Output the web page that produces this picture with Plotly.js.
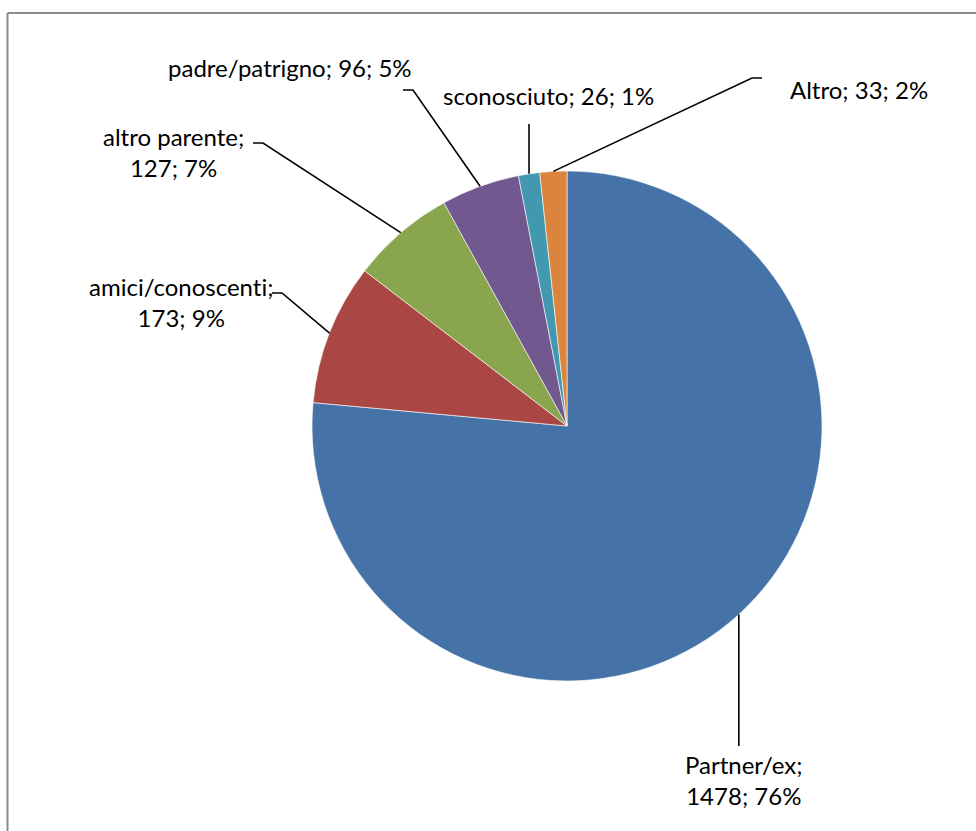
<!DOCTYPE html>
<html>
<head>
<meta charset="utf-8">
<script src="https://cdn.plot.ly/plotly-3.0.1.min.js"></script>
<style>html,body{margin:0;padding:0;background:#fff;}#chart{width:976px;height:831px;}
text{font-variant-ligatures:none;font-feature-settings:"liga" 0;}</style>
</head>
<body>
<div id="chart"></div>
<script>
// Data
const categories = ["Partner/ex", "amici/conoscenti", "altro parente", "padre/patrigno", "sconosciuto", "Altro"];
const counts = [1478, 173, 127, 96, 26, 33];
const percentLabels = ["76%", "9%", "7%", "5%", "1%", "2%"];
const colors = ["#4572A7", "#AA4643", "#89A54E", "#71588F", "#4198AF", "#DB843D"];

const W = 976, H = 831;
const CX = 567, CY = 426, R = 255;
const px = x => x / W;
const py = y => 1 - y / H;

// label layout (pixel positions of text centre, elbow and end of leader line)
const labelLayout = [
  {text: categories[0] + ";<br>" + counts[0] + "; " + percentLabels[0], tx: 744, ty: 780, path: "v", ex: 739, ey: 746},
  {text: categories[1] + ";<br>" + counts[1] + "; " + percentLabels[1], tx: 181, ty: 302, elbow: [282, 293], end: [272, 293]},
  {text: categories[2] + ";<br>" + counts[2] + "; " + percentLabels[2], tx: 173, ty: 152, elbow: [263, 143], end: [253, 143]},
  {text: categories[3] + "; " + counts[3] + "; " + percentLabels[3], tx: 290, ty: 68, elbow: [413, 90], end: [403, 90]},
  {text: categories[4] + "; " + counts[4] + "; " + percentLabels[4], tx: 548, ty: 95, path: "v", ex: 529, ey: 124},
  {text: categories[5] + "; " + counts[5] + "; " + percentLabels[5], tx: 859, ty: 90, elbow: [752, 78], end: [762, 78]}
];

const total = counts.reduce((a, b) => a + b, 0);
let cum = 0;
const shapes = [];
const annotations = [];
counts.forEach((v, i) => {
  const mid = (cum + v / 2) / total * 2 * Math.PI;
  cum += v;
  const sx = CX + R * Math.sin(mid);
  const sy = CY - R * Math.cos(mid);
  const L = labelLayout[i];
  let d;
  if (L.path === "v") {
    d = `M ${px(sx)} ${py(sy)} L ${px(sx)} ${py(L.ey)}`;
  } else {
    d = `M ${px(sx)} ${py(sy)} L ${px(L.elbow[0])} ${py(L.elbow[1])} L ${px(L.end[0])} ${py(L.end[1])}`;
  }
  shapes.push({type: "path", xref: "paper", yref: "paper", path: d, line: {color: "#000", width: 1.6}});
  annotations.push({
    xref: "paper", yref: "paper", x: px(L.tx), y: py(L.ty),
    xanchor: "center", yanchor: "middle", align: "center",
    text: L.text, showarrow: false,
    font: {family: "Lato, 'Open Sans', sans-serif", size: 24, color: "#000"}
  });
});

// chart frame
shapes.push({type: "line", xref: "paper", yref: "paper", x0: px(7.5), y0: py(13), x1: px(7.5), y1: -0.05, line: {color: "#8c8c8c", width: 2}});
shapes.push({type: "line", xref: "paper", yref: "paper", x0: px(7.5), y0: py(13), x1: 1.05, y1: py(13), line: {color: "#8c8c8c", width: 2}});

const trace = {
  type: "pie",
  labels: categories,
  values: counts,
  sort: false,
  direction: "clockwise",
  rotation: 0,
  textinfo: "none",
  hoverinfo: "label+value+percent",
  marker: {colors: colors, line: {color: "#ffffff", width: 0.6}},
  domain: {x: [px(CX - R), px(CX + R)], y: [py(CY + R), py(CY - R)]}
};

Plotly.newPlot("chart", [trace], {
  width: W, height: H,
  margin: {l: 0, r: 0, t: 0, b: 0},
  showlegend: false,
  paper_bgcolor: "#fff",
  shapes: shapes,
  annotations: annotations
}, {displayModeBar: false, staticPlot: true});
</script>
</body>
</html>
